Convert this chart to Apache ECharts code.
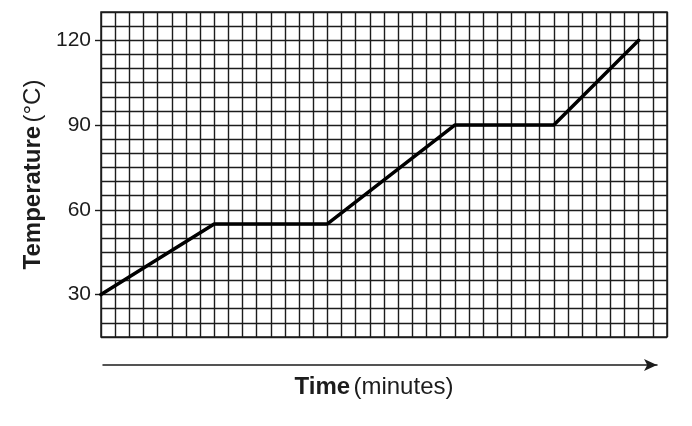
<!DOCTYPE html>
<html>
<head>
    <meta charset="utf-8">
    <title>Temperature vs Time</title>
    <style>
        html, body { margin: 0; padding: 0; background: #fff; }
        #chart { width: 692px; height: 426px; }
    </style>
</head>
<body>
<div id="chart"></div>
<script src="https://cdn.jsdelivr.net/npm/echarts@6/dist/echarts.min.js"></script>
<script type="text/javascript">
    // 数据：时间(分钟)与温度(°C)
    var timeMinutes = [0, 8, 16, 25, 32, 38];
    var temperature = [30, 55, 55, 90, 90, 120];
    var yTickValues = [30, 60, 90, 120];

    var font = "'Liberation Sans', Arial, Helvetica, sans-serif";
    var ink = '#1c1c1c';

    var points = timeMinutes.map(function (t, i) { return [t, temperature[i]]; });

    var myChart = echarts.init(document.getElementById('chart'));

    var option = {
        animation: false,
        backgroundColor: '#fff',
        grid: [
            {left: 101, right: 25, top: 12, bottom: 89, show: true, borderColor: ink, borderWidth: 1.5},
            {left: 103, right: 35, top: 364, bottom: 61}
        ],
        xAxis: [
            {
                type: 'value',
                gridIndex: 0,
                min: 0,
                max: 40,
                interval: 1,
                axisLine: {show: false},
                axisTick: {show: false},
                axisLabel: {show: false},
                splitLine: {show: true, lineStyle: {color: ink, width: 1.4}}
            },
            {
                type: 'value',
                gridIndex: 1,
                min: 0,
                max: 1,
                position: 'bottom',
                axisLine: {
                    show: true,
                    symbol: ['none', 'arrow'],
                    symbolSize: [9, 13],
                    lineStyle: {color: ink, width: 1.5}
                },
                axisTick: {show: false},
                axisLabel: {show: false},
                splitLine: {show: false},
                name: '{b|Time} {n|(minutes)}',
                nameLocation: 'middle',
                nameGap: 10,
                nameTextStyle: {
                    padding: [0, 12, 0, 0],
                    rich: {
                        b: {fontFamily: font, fontSize: 24, fontWeight: 'bold', color: ink},
                        n: {fontFamily: font, fontSize: 24, color: ink}
                    }
                }
            }
        ],
        yAxis: [
            {
                // 刻度与标签
                type: 'value',
                gridIndex: 0,
                position: 'left',
                min: 15,
                max: 130,
                axisLine: {show: false},
                axisTick: {show: true, customValues: yTickValues, length: 6, lineStyle: {color: ink, width: 1.4}},
                axisLabel: {
                    customValues: yTickValues,
                    margin: 10,
                    fontFamily: font,
                    fontSize: 21,
                    color: ink
                },
                splitLine: {show: false},
                name: '{b|Temperature} {n|(°C)}',
                nameLocation: 'middle',
                nameGap: 56,
                nameTextStyle: {
                    rich: {
                        b: {fontFamily: font, fontSize: 24, fontWeight: 'bold', color: ink},
                        n: {fontFamily: font, fontSize: 24, color: ink}
                    }
                }
            },
            {
                // 网格线：每格 5 °C
                type: 'value',
                gridIndex: 0,
                position: 'left',
                min: 15,
                max: 130,
                interval: 5,
                axisLine: {show: false},
                axisTick: {show: false},
                axisLabel: {show: false},
                splitLine: {show: true, lineStyle: {color: ink, width: 1.4}}
            },
            {
                type: 'value',
                gridIndex: 1,
                show: false
            }
        ],
        series: [{
            type: 'line',
            xAxisIndex: 0,
            yAxisIndex: 0,
            data: points,
            symbol: 'none',
            lineStyle: {color: '#000', width: 3.5, cap: 'round', join: 'round'}
        }]
    };

    myChart.setOption(option);
</script>
</body>
</html>
